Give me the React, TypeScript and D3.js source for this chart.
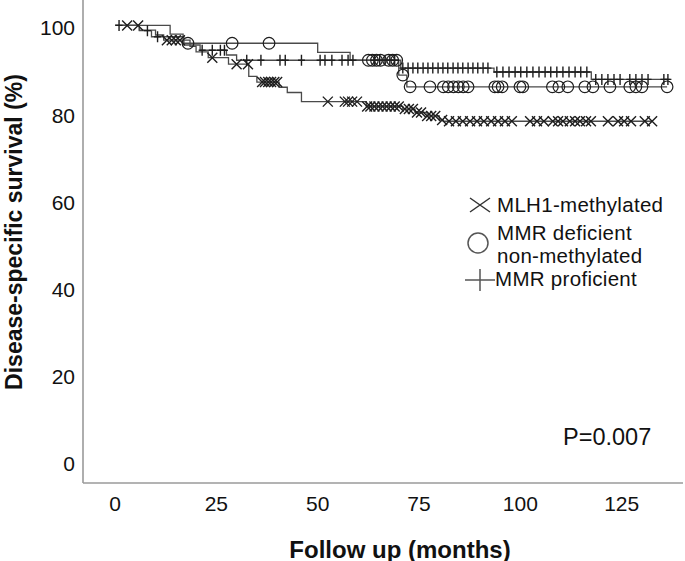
import React from "react";
import * as d3 from "d3";

// ---- Data (months, survival %) ----
const xTicks = [0, 25, 50, 75, 100, 125];
const yTicks = [0, 20, 40, 60, 80, 100];

// MLH1-methylated (X)
const mlh1Times = [0, 6, 10, 12, 18.5, 20, 23, 28, 33, 35, 40.5, 42.5, 46, 62, 71, 74, 77, 80, 81];
const mlh1Surv = [100, 98.9, 97.8, 96.6, 95.2, 93.9, 92.6, 91.1, 88.3, 87.0, 85.8, 84.6, 82.5, 81.4, 80.8, 80.0, 79.2, 78.3, 78.0];
const mlh1End = 132.5;
const mlh1Censor = [3, 5.7, 12.8, 14, 15, 16, 24, 30, 32.8, 36.3, 37, 37.8, 38.5, 39.3, 40, 52.5, 56.7, 57.5, 58.5, 59.7,
  62.2, 63, 64, 65, 66, 67, 68, 69, 70, 71.5, 72.5, 73.5, 74.5, 75.5, 77, 78, 79,
  80.7, 82.4, 84.1, 85.8, 87.6, 89.3, 91.0, 92.8, 94.5, 96.2, 97.9, 102.4, 104.1, 105.8, 108.0, 109.3, 110.5,
  112.2, 113.5, 114.7, 116.2, 117.4, 121.6, 124.1, 125.6, 127.3, 130.7, 132.5];

// MMR deficient non-methylated (O)
const defTimes = [0, 13.6, 16.8, 50, 58, 70, 72];
const defSurv = [100, 98.0, 95.9, 93.8, 92.0, 88.6, 85.9];
const defEnd = 136.2;
const defCensor = [18, 28.9, 38, 62.5, 63.5, 64.5, 65.5, 67.5, 68.5, 69.5, 71, 72.8, 77.7, 81.0, 82.2, 83.5, 84.7,
  85.9, 87.1, 93.7, 94.5, 95.5, 99.9, 100.6, 107.9, 109.5, 111.7, 115.9, 117.9, 122.1, 127.0, 128.5, 130.0, 136.2];

// MMR proficient (+)
const profTimes = [0, 6, 9, 17, 21, 27.5, 30, 70.5, 93.5, 117.5];
const profSurv = [100, 98.8, 97.4, 95.5, 94.3, 93.2, 92.0, 90.2, 89.3, 87.6];
const profEnd = 137;
const profCensor = [1, 8, 10.5, 21.5, 24, 26, 27, 32.5, 36, 40.7, 42, 46, 50.6, 51.8, 53.5, 56, 57.5, 58.7,
  64, 65.3, 66.6, 67.8, 69, 71, 72.3, 73.5, 74.7, 76, 77.2, 78.4, 79.7, 80.9, 82.1, 83.4, 84.6, 85.8, 87.1,
  88.3, 89.5, 90.8, 92, 94.2, 95.7, 97.2, 98.7, 100.1, 101.6, 103.1, 104.6, 106.1, 107.5, 109, 110.5, 112,
  113.5, 114.9, 116.4, 118.6, 120.1, 121.6, 123.1, 124.6, 127, 128.5, 130, 131.5, 135.4, 136.4];

const legendLabels = ["MLH1-methylated", "MMR deficient", "non-methylated", "MMR proficient"];
const pText = "P=0.007";
const xTitle = "Follow up (months)";
const yTitle = "Disease-specific survival (%)";

const FONT = "'Liberation Sans', Arial, Helvetica, sans-serif";

const x = d3.scaleLinear().domain([0, 125]).range([115, 621.7]);
const y = d3.scaleLinear().domain([0, 100]).range([461, 25.4]);

function survAt(times: number[], surv: number[], t: number) {
  const i = d3.bisectRight(times, t) - 1;
  return surv[Math.max(0, i)];
}

function curvePath(times: number[], surv: number[], end: number) {
  const pts: [number, number][] = times.map((t, i) => [t, surv[i]]);
  pts.push([end, surv[surv.length - 1]]);
  const line = d3.line<[number, number]>()
    .x((d) => x(d[0]))
    .y((d) => y(d[1]))
    .curve(d3.curveStepAfter);
  return line(pts) || "";
}

const xMark = (s: number, h?: number) => `M${-s},${-(h ?? s)}L${s},${h ?? s}M${-s},${h ?? s}L${s},${-(h ?? s)}`;
const plusMark = (w: number, h: number) => `M${-w},0L${w},0M0,${-h}L0,${h}`;

export default function App() {
  const lineColor = "#4a4a4a";
  const markColor = "#1e1e1e";
  const legendFont = 20.5;
  return (
    <svg width={685} height={561} style={{ position: "absolute", left: 0, top: 0, background: "#fff" }}
      fontFamily={FONT}>
      <rect x={0} y={0} width={685} height={561} fill="#fff" />
      {/* axes */}
      <line x1={83} y1={0} x2={83} y2={483} stroke="#9a9a9a" strokeWidth={1.6} />
      <line x1={83} y1={483} x2={683} y2={483} stroke="#9a9a9a" strokeWidth={1.6} />
      {yTicks.map((v) => (
        <text key={"y" + v} x={75} y={y(v) + 2.5} textAnchor="end" dominantBaseline="central" fontSize={21} fill="#111">
          {v}
        </text>
      ))}
      {xTicks.map((v) => (
        <text key={"x" + v} x={x(v)} y={503} textAnchor="middle" dominantBaseline="central" fontSize={21} fill="#111">
          {v}
        </text>
      ))}
      <text x={400} y={549} textAnchor="middle" dominantBaseline="central" fontSize={24} fontWeight="bold" fill="#111">
        {xTitle}
      </text>
      <text transform={`translate(14,232) rotate(-90)`} textAnchor="middle" dominantBaseline="central" fontSize={23}
        fontWeight="bold" fill="#111">
        {yTitle}
      </text>

      {/* curves */}
      <path d={curvePath(defTimes, defSurv, defEnd)} fill="none" stroke={lineColor} strokeWidth={1.3} />
      <path d={curvePath(profTimes, profSurv, profEnd)} fill="none" stroke={lineColor} strokeWidth={1.3} />
      <path d={curvePath(mlh1Times, mlh1Surv, mlh1End)} fill="none" stroke={lineColor} strokeWidth={1.3} />

      {defCensor.map((t, i) => (
        <circle key={"c" + i} cx={x(t)} cy={y(survAt(defTimes, defSurv, t))} r={5.8} fill="none" stroke={markColor}
          strokeWidth={1.2} />
      ))}
      {profCensor.map((t, i) => (
        <path key={"p" + i} transform={`translate(${x(t)},${y(survAt(profTimes, profSurv, t))})`} d={plusMark(3.5, 5.5)}
          fill="none" stroke={markColor} strokeWidth={1.4} />
      ))}
      {mlh1Censor.map((t, i) => (
        <path key={"m" + i} transform={`translate(${x(t)},${y(survAt(mlh1Times, mlh1Surv, t))})`} d={xMark(5)}
          fill="none" stroke={markColor} strokeWidth={1.4} />
      ))}

      {/* legend */}
      <path transform="translate(480,205)" d={xMark(10, 7)} stroke="#333" strokeWidth={1.5} fill="none" />
      <circle cx={478} cy={243} r={10} stroke="#555" strokeWidth={1.5} fill="none" />
      <path transform="translate(480,280)" d={plusMark(15, 11)} stroke="#555" strokeWidth={1.5} fill="none" />
      <text x={497} y={212} fontSize={legendFont} letterSpacing={0.3} fill="#111">{legendLabels[0]}</text>
      <text x={497} y={240} fontSize={legendFont} letterSpacing={0.3} fill="#111">{legendLabels[1]}</text>
      <text x={497} y={263} fontSize={legendFont} letterSpacing={0.3} fill="#111">{legendLabels[2]}</text>
      <text x={495} y={286} fontSize={legendFont} letterSpacing={0.3} fill="#111">{legendLabels[3]}</text>

      <text x={563} y={437} dominantBaseline="central" fontSize={23.5} fill="#111">{pText}</text>
    </svg>
  );
}
